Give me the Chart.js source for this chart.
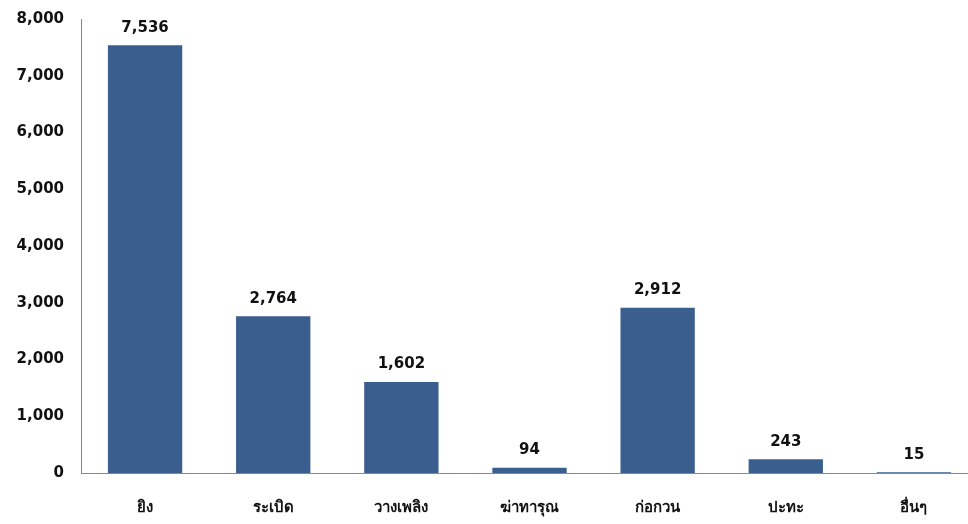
<!DOCTYPE html>
<html>
<head>
<meta charset="utf-8">
<script src="https://cdn.jsdelivr.net/npm/chart.js@4"></script>
<style>
  html, body { margin: 0; padding: 0; background: #fff; overflow: hidden; }
  #wrap { width: 978px; height: 524px; }
</style>
</head>
<body>
<div id="wrap"><canvas id="incidentChart"></canvas></div>
<script>
const categories = ['ยิง', 'ระเบิด', 'วางเพลิง', 'ฆ่าทารุณ', 'ก่อกวน', 'ปะทะ', 'อื่นๆ'];
const counts = [7536, 2764, 1602, 94, 2912, 243, 15];
const yTicks = [0, 1000, 2000, 3000, 4000, 5000, 6000, 7000, 8000];

const fontFamily = '"DejaVu Sans", Tahoma, Verdana, sans-serif';

// numbers above each bar
const valueLabels = {
  id: 'valueLabels',
  afterDatasetsDraw(chart) {
    const ctx = chart.ctx;
    const meta = chart.getDatasetMeta(0);
    ctx.save();
    ctx.font = 'bold 15px ' + fontFamily;
    ctx.fillStyle = '#111';
    ctx.textAlign = 'center';
    ctx.textBaseline = 'bottom';
    meta.data.forEach((bar, i) => {
      ctx.fillText(counts[i].toLocaleString('en-US'), bar.x, bar.y - 10);
    });
    ctx.restore();
  }
};

new Chart(document.getElementById('incidentChart'), {
  type: 'bar',
  data: {
    labels: categories,
    datasets: [{
      data: counts,
      backgroundColor: '#3a5f8f',
      borderWidth: 0,
      categoryPercentage: 1,
      barPercentage: 0.58
    }]
  },
  options: {
    responsive: true,
    maintainAspectRatio: false,
    animation: false,
    layout: { padding: { top: 19, bottom: 0, left: 0, right: 0 } },
    plugins: {
      legend: { display: false },
      tooltip: { enabled: false }
    },
    scales: {
      x: {
        afterFit(axis) {
          axis.height = 51;
        },
        grid: { display: false, drawTicks: false },
        border: { color: '#888', width: 1 },
        ticks: {
          color: '#111',
          padding: 26,
          font: { family: fontFamily, size: 15, weight: 'bold' }
        }
      },
      y: {
        min: 0,
        max: 8000,
        afterBuildTicks(axis) {
          axis.ticks = yTicks.map(v => ({ value: v }));
        },
        afterFit(axis) {
          axis.width = 81;
          axis.paddingTop = 0;
          axis.paddingBottom = 0;
        },
        grid: { display: false, drawTicks: false },
        border: { color: '#888', width: 1 },
        ticks: {
          color: '#111',
          padding: 17,
          font: { family: fontFamily, size: 15, weight: 'bold' },
          callback: v => v.toLocaleString('en-US')
        }
      }
    }
  },
  plugins: [valueLabels]
});
</script>
</body>
</html>
